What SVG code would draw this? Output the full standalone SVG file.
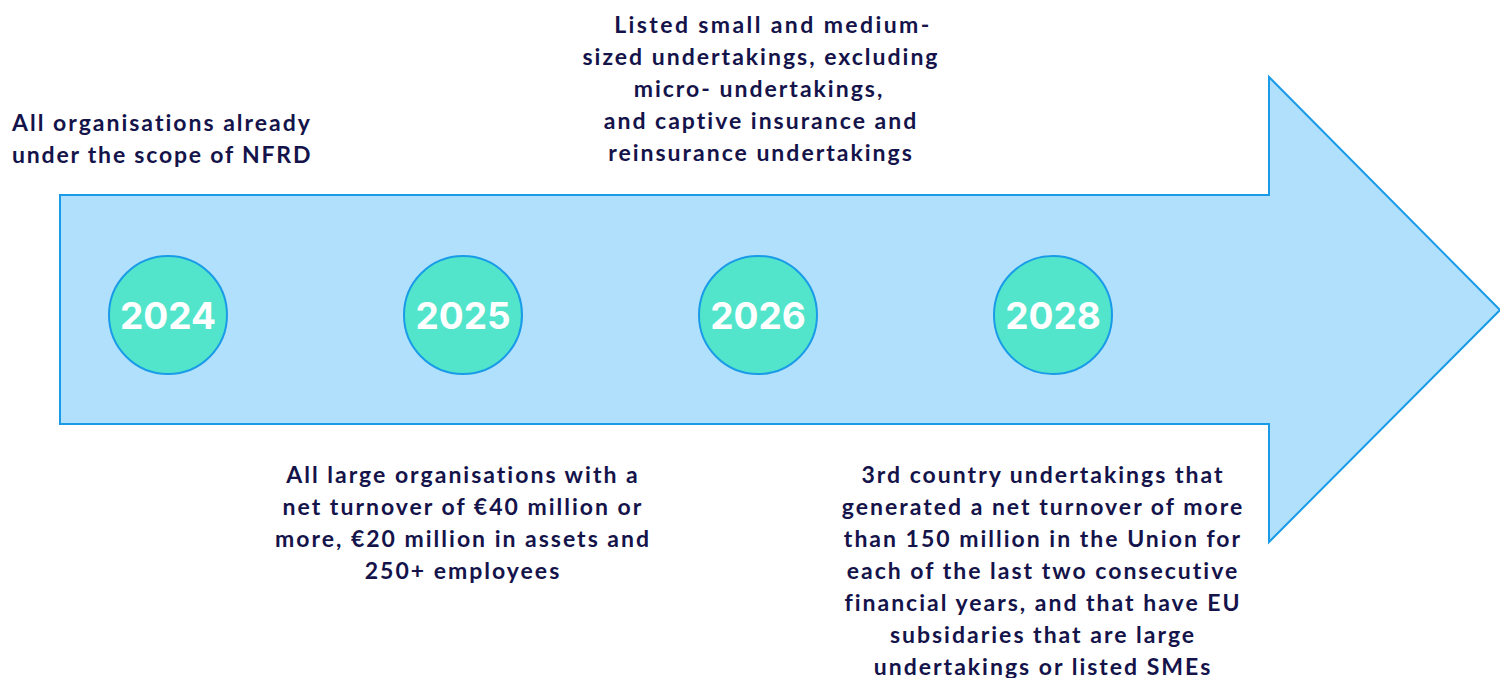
<svg xmlns="http://www.w3.org/2000/svg" width="1500" height="678" viewBox="0 0 1500 678">
<style>
.t{font-family:Lato,"Liberation Sans",sans-serif;font-weight:700;font-size:23px;letter-spacing:2px;fill:#14134a}
.c{text-anchor:middle}
.yr{font-family:Inter,"Liberation Sans",sans-serif;font-weight:700;font-size:37px;fill:#ffffff;text-anchor:middle}
.dot{fill:#52e5cb;stroke:#1a9be8;stroke-width:2}
</style>
<rect width="1500" height="678" fill="#ffffff"/>
<g id="arrow">
<polygon points="60,195 1269,195 1269,77 1500,310 1269,542 1269,424 60,424" fill="#b0e0fc" stroke="#1a9be8" stroke-width="2"/>
</g>
<g id="connectors"></g>
<g id="n2024"><circle class="dot" cx="168" cy="315" r="59"/><text class="yr" x="168" y="329">2024</text></g>
<g id="n2025"><circle class="dot" cx="463" cy="315" r="59"/><text class="yr" x="463" y="329">2025</text></g>
<g id="n2026"><circle class="dot" cx="758" cy="315" r="59"/><text class="yr" x="758" y="329">2026</text></g>
<g id="n2028"><circle class="dot" cx="1053" cy="315" r="59"/><text class="yr" x="1053" y="329">2028</text></g>
<g id="label2024"><text class="t" x="12" y="131">All organisations already</text><text class="t" x="12" y="163" style="letter-spacing:1.8px">under the scope of NFRD</text></g>
<g id="label2026">
<text class="t c" x="773" y="33" style="letter-spacing:2.4px">Listed small and medium-</text>
<text class="t c" x="761" y="65">sized undertakings, excluding</text>
<text class="t c" x="759" y="97">micro- undertakings,</text>
<text class="t c" x="761" y="129">and captive insurance and</text>
<text class="t c" x="761" y="161">reinsurance undertakings</text>
</g>
<g id="label2025">
<text class="t c" x="463" y="483">All large organisations with a</text>
<text class="t c" x="463" y="515">net turnover of €40 million or</text>
<text class="t c" x="463" y="547">more, €20 million in assets and</text>
<text class="t c" x="463" y="579">250+ employees</text>
</g>
<g id="label2028">
<text class="t c" x="1043" y="483">3rd country undertakings that</text>
<text class="t c" x="1043" y="515">generated a net turnover of more</text>
<text class="t c" x="1043" y="547">than 150 million in the Union for</text>
<text class="t c" x="1043" y="579">each of the last two consecutive</text>
<text class="t c" x="1043" y="611">financial years, and that have EU</text>
<text class="t c" x="1043" y="643">subsidaries that are large</text>
<text class="t c" x="1043" y="675">undertakings or listed SMEs</text>
</g>
</svg>
